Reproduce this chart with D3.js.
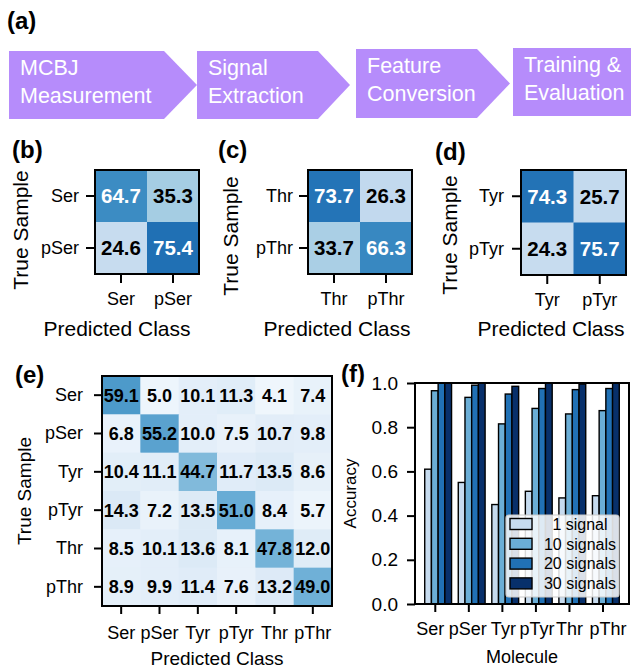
<!DOCTYPE html>
<html><head><meta charset="utf-8">
<script src="https://cdn.jsdelivr.net/npm/d3@7"></script>
<style>
body{margin:0;background:#fff}
svg{display:block}
text{font-family:"Liberation Sans",Arial,Helvetica,sans-serif}
</style>
</head><body>
<svg id="fig" width="631" height="668"></svg>
<script>
// ---------------- data ----------------
const flowSteps = [["MCBJ","Measurement"],["Signal","Extraction"],["Feature","Conversion"],["Training &","Evaluation"]];
const serClasses = ["Ser","pSer"];
const serMatrix = [[64.7,35.3],[24.6,75.4]];
const thrClasses = ["Thr","pThr"];
const thrMatrix = [[73.7,26.3],[33.7,66.3]];
const tyrClasses = ["Tyr","pTyr"];
const tyrMatrix = [[74.3,25.7],[24.3,75.7]];
const allClasses = ["Ser","pSer","Tyr","pTyr","Thr","pThr"];
const allMatrix = [
  [59.1, 5.0,10.1,11.3, 4.1, 7.4],
  [ 6.8,55.2,10.0, 7.5,10.7, 9.8],
  [10.4,11.1,44.7,11.7,13.5, 8.6],
  [14.3, 7.2,13.5,51.0, 8.4, 5.7],
  [ 8.5,10.1,13.6, 8.1,47.8,12.0],
  [ 8.9, 9.9,11.4, 7.6,13.2,49.0]];
const molecules = ["Ser","pSer","Tyr","pTyr","Thr","pThr"];
const seriesNames = ["1 signal","10 signals","20 signals","30 signals"];
const acc1  = [0.61, 0.55, 0.45, 0.51, 0.48, 0.49];
const acc10 = [0.965,0.935,0.815,0.885,0.86, 0.875];
const acc20 = [1.0,  0.99, 0.95, 0.975,0.97, 0.975];
const acc30 = [1.0,  1.0,  0.985,1.0,  0.995,1.0];
const accTicks = [0,0.2,0.4,0.6,0.8,1.0];

// ---------------- setup ----------------
const svg = d3.select("#fig");
const bluesStops = ["#f7fbff","#deebf7","#c6dbef","#9ecae1","#6baed6","#4292c6","#2171b5","#08519c","#08306b"];
const blues = d3.scaleLinear().domain(d3.range(9).map(i=>i*100/8)).range(bluesStops).interpolate(d3.interpolateRgb);
const seriesColors = ["#c6dbef","#6baed6","#2171b5","#08306b"];

function panelLabel(t,x,y){
  svg.append("text").attr("x",x).attr("y",y).attr("font-size",24).attr("font-weight","bold").attr("fill","#000").text(t);
}

// ---------------- (a) flow chart ----------------
panelLabel("(a)",7,29);
const flowBoxes = [
  {x0:9,  x1:164, tip:197, y0:51, y1:119},
  {x0:197,x1:318, tip:350, y0:51, y1:119},
  {x0:356,x1:477, tip:510, y0:49, y1:118},
  {x0:513,x1:640, tip:640, y0:48, y1:116}
];
const flowG = svg.append("g");
flowSteps.forEach((lines,i)=>{
  const b = flowBoxes[i];
  const ym = (b.y0+b.y1)/2;
  const pts = [[b.x0,b.y0],[b.x1,b.y0],[b.tip,ym],[b.x1,b.y1],[b.x0,b.y1]];
  flowG.append("polygon").attr("points",pts.map(p=>p.join(",")).join(" ")).attr("fill","#b68cfb");
  lines.forEach((ln,k)=>{
    flowG.append("text").attr("x",b.x0+11).attr("y",b.y0+24+k*27.5)
      .attr("font-size",21.5).attr("fill","#fff").text(ln);
  });
});

// ---------------- confusion matrices ----------------
function confusion(o){
  const g = svg.append("g");
  const x = d3.scaleBand().domain(o.classes).range([o.x0,o.x0+o.size]);
  const y = d3.scaleBand().domain(o.classes).range([o.y0,o.y0+o.size]);
  const cells = o.matrix.flatMap((row,i)=>row.map((v,j)=>({r:o.classes[i],c:o.classes[j],v})));
  g.selectAll("rect.cell").data(cells).join("rect").attr("class","cell")
    .attr("x",d=>x(d.c)).attr("y",d=>y(d.r))
    .attr("width",x.bandwidth()+0.5).attr("height",y.bandwidth()+0.5)
    .attr("fill",d=>blues(d.v));
  g.selectAll("text.val").data(cells).join("text").attr("class","val")
    .attr("x",d=>x(d.c)+x.bandwidth()/2).attr("y",d=>y(d.r)+y.bandwidth()/2)
    .attr("dy","0.36em").attr("text-anchor","middle")
    .attr("font-size",o.valSize).attr("font-weight","bold")
    .attr("fill",d=>o.whiteAbove!==null && d.v>o.whiteAbove ? "#fff" : "#000")
    .text(d=>d.v.toFixed(1));
  const ax = g.append("g").attr("transform",`translate(0,${o.y0+o.size})`)
    .call(d3.axisBottom(x).tickSize(o.tick).tickPadding(o.xpad));
  const ay = g.append("g").attr("transform",`translate(${o.x0},0)`)
    .call(d3.axisLeft(y).tickSize(o.tick).tickPadding(o.ypad));
  [ax,ay].forEach(a=>{
    a.select(".domain").remove();
    a.selectAll(".tick line").attr("stroke","#000").attr("stroke-width",2);
    a.selectAll(".tick text").attr("font-size",o.tickSize).attr("fill","#000")
      .style("font-family",'"Liberation Sans",Arial,sans-serif');
  });
  g.append("rect").attr("x",o.x0).attr("y",o.y0).attr("width",o.size).attr("height",o.size)
    .attr("fill","none").attr("stroke","#000").attr("stroke-width",2);
  g.append("text").attr("x",o.xlabX).attr("y",o.xlabY).attr("text-anchor","middle")
    .attr("font-size",o.labSize).attr("fill","#000").text("Predicted Class");
  g.append("text").attr("transform",`translate(${o.ylabX},${o.ylabY}) rotate(-90)`)
    .attr("text-anchor","middle").attr("dy","0.35em")
    .attr("font-size",o.labSize).attr("fill","#000").text("True Sample");
}

panelLabel("(b)",12,158);
confusion({classes:serClasses,matrix:serMatrix,x0:95,y0:170,size:104,valSize:20.5,tickSize:18,labSize:21,
  tick:9,xpad:9,ypad:7,whiteAbove:50,xlabX:117,xlabY:336,ylabX:21,ylabY:230});
panelLabel("(c)",218,158);
confusion({classes:thrClasses,matrix:thrMatrix,x0:308,y0:170,size:104,valSize:20.5,tickSize:18,labSize:21,
  tick:9,xpad:9,ypad:6,whiteAbove:50,xlabX:337,xlabY:336,ylabX:231,ylabY:236});
panelLabel("(d)",435,160);
confusion({classes:tyrClasses,matrix:tyrMatrix,x0:521,y0:170,size:105,valSize:20.5,tickSize:18,labSize:21,
  tick:9,xpad:9,ypad:8,whiteAbove:50,xlabX:551,xlabY:336,ylabX:450,ylabY:235});
panelLabel("(e)",15,383);
confusion({classes:allClasses,matrix:allMatrix,x0:102,y0:376,size:230,valSize:18,tickSize:18,labSize:19,
  tick:8,xpad:12,ypad:11,whiteAbove:null,xlabX:217,xlabY:665,ylabX:24,ylabY:491});

// ---------------- (f) bar chart ----------------
panelLabel("(f)",341,382);
const fx0 = 415, fx1 = 629, fy0 = 383, fy1 = 604;
const barW = 0.2;
const nMol = molecules.length;
const lo = -barW/2, hi = (nMol-1) + 3*barW + barW/2, pad = (hi-lo)*0.05;
const x = d3.scaleLinear().domain([lo-pad, hi+pad]).range([fx0,fx1]);
const y = d3.scaleLinear().domain([0,1]).range([fy1,fy0]);
const series = [acc1,acc10,acc20,acc30];
const fg = svg.append("g");
series.forEach((vals,k)=>{
  fg.selectAll(null).data(vals).join("rect")
    .attr("x",(d,i)=>x(i+k*barW-barW/2)).attr("width",x(barW)-x(0))
    .attr("y",d=>y(d)).attr("height",d=>y(0)-y(d))
    .attr("fill",seriesColors[k]).attr("stroke","#000").attr("stroke-width",1.4);
});
const fax = fg.append("g").attr("transform",`translate(0,${fy1})`)
  .call(d3.axisBottom(x).tickValues(molecules.map((m,i)=>i+barW)).tickFormat((d,i)=>molecules[i]).tickSize(8).tickPadding(10));
const fay = fg.append("g").attr("transform",`translate(${fx0},0)`)
  .call(d3.axisLeft(y).tickValues(accTicks).tickFormat(d3.format(".1f")).tickSize(8).tickPadding(9));
[fax,fay].forEach(a=>{
  a.select(".domain").remove();
  a.selectAll(".tick line").attr("stroke","#000").attr("stroke-width",2);
  a.selectAll(".tick text").attr("fill","#000")
    .style("font-family",'"Liberation Sans",Arial,sans-serif');
});
const xLabelShift = {Ser:-5, pSer:-1, Tyr:1, pTyr:1, Thr:0, pThr:5};
fax.selectAll(".tick text").attr("font-size",18).attr("dx",(d,i)=>xLabelShift[molecules[i]]);
fay.selectAll(".tick text").attr("font-size",19);
fg.append("rect").attr("x",fx0).attr("y",fy0).attr("width",fx1-fx0).attr("height",fy1-fy0)
  .attr("fill","none").attr("stroke","#000").attr("stroke-width",2);
fg.append("text").attr("x",(fx0+fx1)/2).attr("y",663).attr("text-anchor","middle").attr("font-size",18).text("Molecule");
fg.append("text").attr("transform",`translate(350,${(fy0+fy1)/2}) rotate(-90)`).attr("text-anchor","middle")
  .attr("dy","0.35em").attr("font-size",17).text("Accuracy");

// legend
const lg = fg.append("g");
lg.append("rect").attr("x",506).attr("y",515).attr("width",113).attr("height",82).attr("rx",3)
  .attr("fill","#fff").attr("fill-opacity",0.85).attr("stroke","#cccccc").attr("stroke-width",1.2);
seriesNames.forEach((name,k)=>{
  const cy = 524 + k*19.8;
  lg.append("rect").attr("x",510).attr("y",cy-5.5).attr("width",22).attr("height",11)
    .attr("fill",seriesColors[k]).attr("stroke","#000").attr("stroke-width",1.4);
  lg.append("text").attr("x",580).attr("y",cy).attr("dy","0.36em").attr("text-anchor","middle")
    .attr("font-size",16).text(name);
});
</script>
</body></html>
